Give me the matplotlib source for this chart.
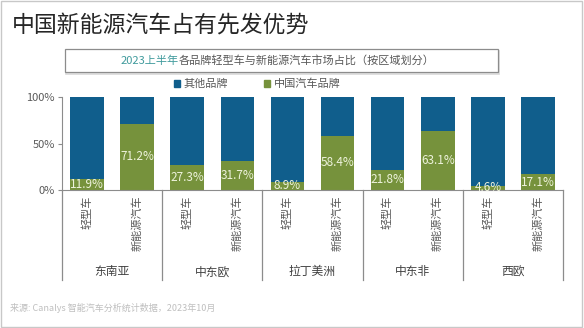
import matplotlib
matplotlib.use('Agg')
import matplotlib.pyplot as plt
from matplotlib.patches import Rectangle, Patch
import matplotlib.transforms as mtransforms

plt.rcParams['font.family'] = ['Noto Sans CJK SC', 'DejaVu Sans']

# data
regions = ['东南亚', '中东欧', '拉丁美洲', '中东非', '西欧']
vehicle_types = ['轻型车', '新能源汽车']
china_share = [11.9, 71.2, 27.3, 31.7, 8.9, 58.4, 21.8, 63.1, 4.6, 17.1]
other_share = [88.1, 28.8, 72.7, 68.3, 91.1, 41.6, 78.2, 36.9, 95.4, 82.9]
series_names = ['其他品牌', '中国汽车品牌']

blue = '#105e8c'
green = '#76923c'
grey = '#595959'

fig = plt.figure(figsize=(5.84, 3.28), dpi=100)
fig.patch.set_facecolor('white')

# outer frame
fig.patches.append(Rectangle((0.002, 0.003), 0.995, 0.994, transform=fig.transFigure,
                             fill=False, edgecolor='#c8c8c8', linewidth=1.0))

# title
fig.text(12 / 584, 1 - 25 / 328, '中国新能源汽车占有先发优势', fontsize=16.5,
         color='#262626', ha='left', va='center')

# subtitle box (with a faint shadow)
fig.patches.append(Rectangle((66 / 584, 1 - 73.5 / 328), 433 / 584, 23 / 328,
                             transform=fig.transFigure, fill=False,
                             edgecolor='#d9d9d9', linewidth=1.2))
fig.patches.append(Rectangle((65 / 584, 1 - 72 / 328), 433 / 584, 23 / 328,
                             transform=fig.transFigure, facecolor='white',
                             edgecolor='#8c8c8c', linewidth=0.9))
t1 = fig.text(121 / 584, 1 - 60.5 / 328, '2023上半年', fontsize=8,
              color='#3f9a9c', ha='left', va='center')
fig.canvas.draw()
bb = t1.get_window_extent()
fig.text(bb.x1 / fig.bbox.width, 1 - 60.5 / 328,
         '各品牌轻型车与新能源汽车市场占比（按区域划分）', fontsize=8,
         color=grey, ha='left', va='center')

ax = fig.add_axes([62 / 584, 1 - 190 / 328, 501 / 584, 93 / 328])

x = list(range(len(china_share)))
ax.bar(x, china_share, width=0.67, color=green, label=series_names[1])
ax.bar(x, other_share, width=0.67, bottom=china_share, color=blue, label=series_names[0])

for xi, v in zip(x, china_share):
    ax.text(xi, v / 2, f'{v}%', ha='center', va='center', fontsize=8.5,
            color='#eef3dc')

ax.set_xlim(-0.5, len(x) - 0.5)
ax.set_ylim(0, 100)
ax.set_yticks([0, 50, 100])
ax.set_yticklabels(['0%', '50%', '100%'], fontsize=8, color=grey)
ax.tick_params(axis='y', length=3, color='#8c8c8c', pad=2)
ax.set_xticks([])
for s in ['top', 'right']:
    ax.spines[s].set_visible(False)
ax.spines['left'].set_color('#8c8c8c')
ax.spines['bottom'].set_color('#8c8c8c')

trans = mtransforms.blended_transform_factory(ax.transData, ax.transAxes)
for i in range(len(x)):
    ax.text(i, -0.06, vehicle_types[i % 2], rotation=90, ha='center', va='top',
            fontsize=8, color=grey, transform=trans)
for g, name in enumerate(regions):
    ax.text(2 * g + 0.5, -0.88, name, ha='center', va='center', fontsize=8.5,
            color='#404040', transform=trans)
for sep in range(0, len(x) + 1, 2):
    ax.plot([sep - 0.5, sep - 0.5], [0, -0.97], color='#8c8c8c', linewidth=0.9,
            transform=trans, clip_on=False)

# legend
handles = [Patch(color=blue, label=series_names[0]), Patch(color=green, label=series_names[1])]
fig.legend(handles=handles, loc='center', bbox_to_anchor=(257 / 584, 1 - 84 / 328),
           ncol=2, frameon=False, fontsize=8, handlelength=0.6, handleheight=0.6,
           handletextpad=0.3, columnspacing=3.2, labelcolor=grey)

# source
fig.text(10 / 584, 1 - 308 / 328, '来源: Canalys 智能汽车分析统计数据，2023年10月',
         fontsize=6.5, color='#bfbfbf', ha='left', va='center')

plt.savefig('out.png', dpi=100)
